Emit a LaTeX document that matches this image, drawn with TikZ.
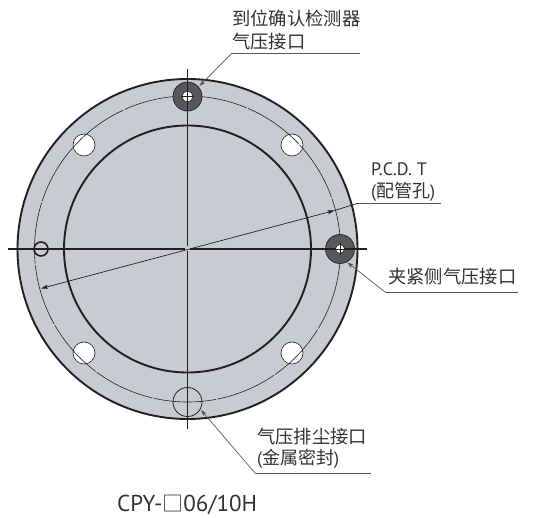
\documentclass[tikz,border=0pt]{standalone}
\usepackage{fontspec}
\setmainfont{PT Sans}
\newfontfamily\cjk{Noto Sans CJK SC}
\usetikzlibrary{arrows.meta}
\definecolor{discgray}{HTML}{C9CBD3}
\definecolor{portgray}{HTML}{58585A}
\definecolor{inkline}{HTML}{231F20}
\definecolor{inktext}{HTML}{333132}
\definecolor{leadgray}{HTML}{555556}
\tikzset{
  thickring/.style={draw=inkline,line width=1.9pt},
  chain/.style={draw=inkline,line width=0.6pt,dash pattern=on 62pt off 1.5pt},
  centre/.style={draw=inkline,line width=1.1pt},
  port/.style={circle,draw=inkline,line width=0.7pt,fill=portgray,inner sep=0pt,minimum size=29pt},
  porthole/.style={circle,draw=inkline,line width=0.6pt,fill=white,inner sep=0pt},
  whitehole/.style={circle,draw=inkline,line width=0.6pt,fill=white,inner sep=0pt,minimum size=22pt},
  leader/.style={draw=leadgray,line width=0.7pt},
  shelf/.style={draw=leadgray,line width=0.9pt},
  pointer/.style={leader,-{Stealth[length=6pt,width=4pt,inset=1.5pt]}},
  dim/.style={draw=inkline,line width=0.7pt,{Stealth[length=7pt,width=4pt,inset=1.5pt]}-{Stealth[length=7pt,width=4pt,inset=1.5pt]}},
  lab/.style={anchor=west,inner sep=0pt,text=inktext,font=\fontsize{18.3}{22}\selectfont\cjk},
  latin/.style={anchor=west,inner sep=0pt,text=inktext,font=\fontsize{18}{21}\selectfont},
}
\begin{document}
\begin{tikzpicture}[x=1pt,y=-1pt]
\useasboundingbox (0,0) rectangle (536,518);
\coordinate (c) at (187.5,249);
% disc
\fill[discgray] (c) circle (170);
\draw[thickring] (c) circle (170);
\draw[thickring] (c) circle (123.5);
% white holes
\node[whitehole] (h1) at (292,145) {};
\node[whitehole] (h2) at (292,353) {};
\node[whitehole] (h3) at (84,145) {};
\node[whitehole] (h4) at (84,353) {};
% pitch circle
\draw[chain] (c) ++(8:153) arc[start angle=8,end angle=368,radius=153];
% ports
\node[port] (ptop) at (187.5,96.5) {};
\node[port] (pright) at (340,249) {};
% centre lines
\draw[centre] (187.5,69) -- (187.5,246.5) (187.5,251.5) -- (187.5,429);
\draw[centre] (8,249) -- (185,249) (190,249) -- (367,249);
\node[porthole,minimum size=11pt] (htop) at (187.5,96.5) {};
\draw[inkline,line width=0.7pt] (187.5,90) -- (187.5,103) (181,96.5) -- (194,96.5);
\node[porthole,minimum size=9pt] (hright) at (340,249) {};
\draw[inkline,line width=0.7pt] (340,243) -- (340,255) (334,249) -- (346,249);
\node[circle,draw=inkline,line width=1.6pt,inner sep=0pt,minimum size=14pt] (pleft) at (41,249) {};
\node[circle,draw=inkline,line width=0.8pt,inner sep=0pt,minimum size=29pt] (pbot) at (187.5,402) {};
% leaders
\coordinate (a1) at (232,53);
\coordinate (a2) at (360,53);
\coordinate (a3) at (199.5,86);
\draw[shelf] (a1) -- (a2);
\draw[pointer] (a1) -- (a3);
\coordinate (b1) at (441,203.5);
\coordinate (b2) at (357,203.5);
\coordinate (b3) at (334.5,210.5);
\coordinate (b4) at (41,288.5);
\draw[shelf] (b1) -- (b2);
\draw[dim] (b4) -- (b3);
\draw[draw=inkline,line width=0.7pt] (b3) -- (b2);
\coordinate (d1) at (518,292);
\coordinate (d2) at (385,292);
\coordinate (d3) at (347.5,262.5);
\draw[shelf] (d1) -- (d2);
\draw[pointer] (d2) -- (d3);
\coordinate (e1) at (371,473);
\coordinate (e2) at (255,473);
\coordinate (e3) at (201,410);
\draw[shelf] (e1) -- (e2);
\draw[pointer] (e2) -- (e3);
% labels
\node[lab] (t1) at (232,18) {到位确认检测器};
\node[lab] (t2) at (232,42) {气压接口};
\node[latin] (t3) at (371,169) {P.C.D. T};
\node[latin] (t4) at (371,192) {(\cjk 配管孔\rmfamily)};
\node[lab] (t5) at (388,277) {夹紧侧气压接口};
\node[lab] (t6) at (257,437) {气压排尘接口};
\node[latin] (t7) at (257,459) {(\cjk 金属密封\rmfamily)};
\node[latin,font=\fontsize{23}{25}\selectfont] (t8) at (117,505) {CPY-{\cjk\fontsize{21}{25}\selectfont □}06/10H};
\end{tikzpicture}
\end{document}
